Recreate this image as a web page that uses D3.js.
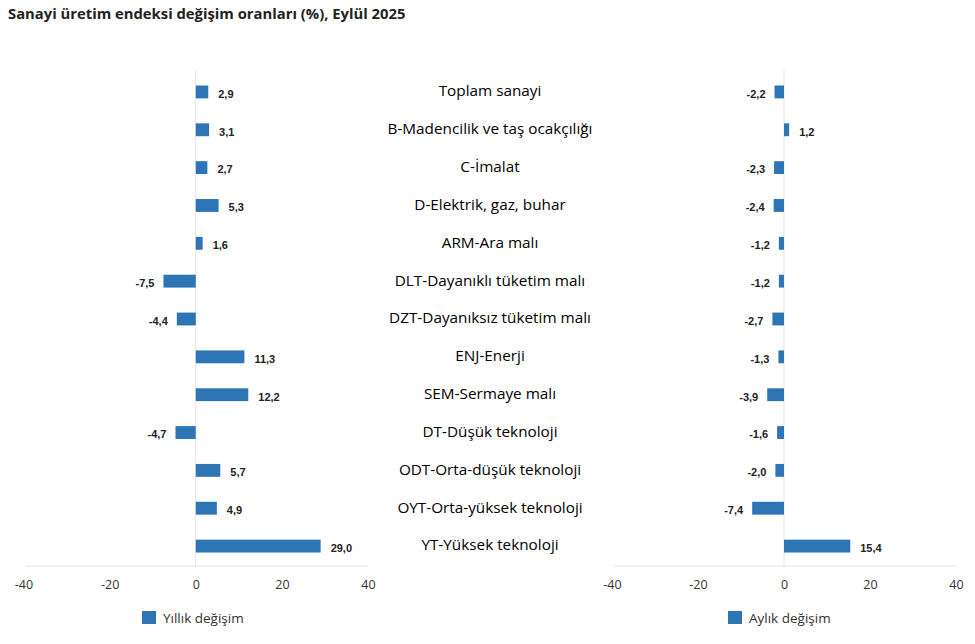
<!DOCTYPE html>
<html>
<head>
<meta charset="utf-8">
<script src="https://cdn.jsdelivr.net/npm/d3@7"></script>
<style>
  body { margin: 0; background: #fff; }
  svg { display: block; }
</style>
</head>
<body>
<svg id="svg" width="975" height="644"></svg>
<script>
// data
const categories = ["Toplam sanayi", "B-Madencilik ve taş ocakçılığı", "C-İmalat", "D-Elektrik, gaz, buhar",
  "ARM-Ara malı", "DLT-Dayanıklı tüketim malı", "DZT-Dayanıksız tüketim malı", "ENJ-Enerji",
  "SEM-Sermaye malı", "DT-Düşük teknoloji", "ODT-Orta-düşük teknoloji", "OYT-Orta-yüksek teknoloji",
  "YT-Yüksek teknoloji"];
const yillik = [2.9, 3.1, 2.7, 5.3, 1.6, -7.5, -4.4, 11.3, 12.2, -4.7, 5.7, 4.9, 29.0];
const aylik = [-2.2, 1.2, -2.3, -2.4, -1.2, -1.2, -2.7, -1.3, -3.9, -1.6, -2.0, -7.4, 15.4];
const xTicks = [-40, -20, 0, 20, 40];
const seriesNames = ["Yıllık değişim", "Aylık değişim"];

const color = "#2e75b6";
const svg = d3.select("#svg");

svg.append("text")
  .attr("x", 8).attr("y", 19)
  .attr("font-family", "Open Sans, sans-serif")
  .attr("font-weight", "bold")
  .attr("font-size", 14.8)
  .attr("fill", "#222")
  .text("Sanayi üretim endeksi değişim oranları (%), Eylül 2025");

const y = d3.scaleBand().domain(categories).range([73, 565]).paddingInner(0.66).paddingOuter(0.33);

// category labels in the middle
svg.append("g").selectAll("text").data(categories).join("text")
  .attr("x", 490)
  .attr("y", d => y(d) + y.bandwidth() / 2 - 1)
  .attr("dy", "0.35em")
  .attr("text-anchor", "middle")
  .attr("font-family", "Open Sans, sans-serif")
  .attr("font-size", 15.3)
  .attr("fill", "#000")
  .text(d => d);

function panel(values, x0, x1, legendX, name) {
  const x = d3.scaleLinear().domain([-40, 40]).range([x0, x1]);
  const g = svg.append("g");

  g.append("line")
    .attr("x1", x(0)).attr("x2", x(0))
    .attr("y1", 70).attr("y2", 566)
    .attr("stroke", "#e3e3e3");
  g.append("line")
    .attr("x1", x0 + 2).attr("x2", x1)
    .attr("y1", 566).attr("y2", 566)
    .attr("stroke", "#e3e3e3");

  const axis = d3.axisBottom(x).tickValues(xTicks).tickSize(0).tickPadding(0)
    .tickFormat(d => d3.format("d")(d).replace("−", "-"));
  const ax = g.append("g").attr("transform", "translate(0,580)").call(axis);
  ax.select(".domain").remove();
  ax.selectAll("text")
    .attr("font-family", "Open Sans, sans-serif")
    .attr("font-size", 12.5)
    .attr("fill", "#333");

  g.selectAll("rect.bar").data(values).join("rect")
    .attr("class", "bar")
    .attr("x", d => x(Math.min(0, d)))
    .attr("y", (d, i) => y(categories[i]))
    .attr("width", d => Math.abs(x(d) - x(0)))
    .attr("height", y.bandwidth())
    .attr("fill", color);

  g.selectAll("text.val").data(values).join("text")
    .attr("class", "val")
    .attr("x", d => d < 0 ? x(d) - 9 : x(d) + 10)
    .attr("y", (d, i) => y(categories[i]) + y.bandwidth() / 2 + 2)
    .attr("dy", "0.35em")
    .attr("text-anchor", d => d < 0 ? "end" : "start")
    .attr("font-family", "Liberation Sans, Arial, sans-serif")
    .attr("font-weight", "bold")
    .attr("font-size", 11)
    .attr("fill", "#222")
    .text(d => d3.format(".1f")(d).replace("−", "-").replace(".", ","));

  const lg = g.append("g").attr("transform", `translate(${legendX},611)`);
  lg.append("rect").attr("width", 14).attr("height", 13).attr("fill", color);
  lg.append("text")
    .attr("x", 21).attr("y", 7).attr("dy", "0.35em")
    .attr("font-family", "Open Sans, sans-serif")
    .attr("font-size", 13.5)
    .attr("fill", "#333")
    .text(name);
}

panel(yillik, 23.5, 368, 142, seriesNames[0]);
panel(aylik, 612, 956, 728, seriesNames[1]);
</script>
</body>
</html>
